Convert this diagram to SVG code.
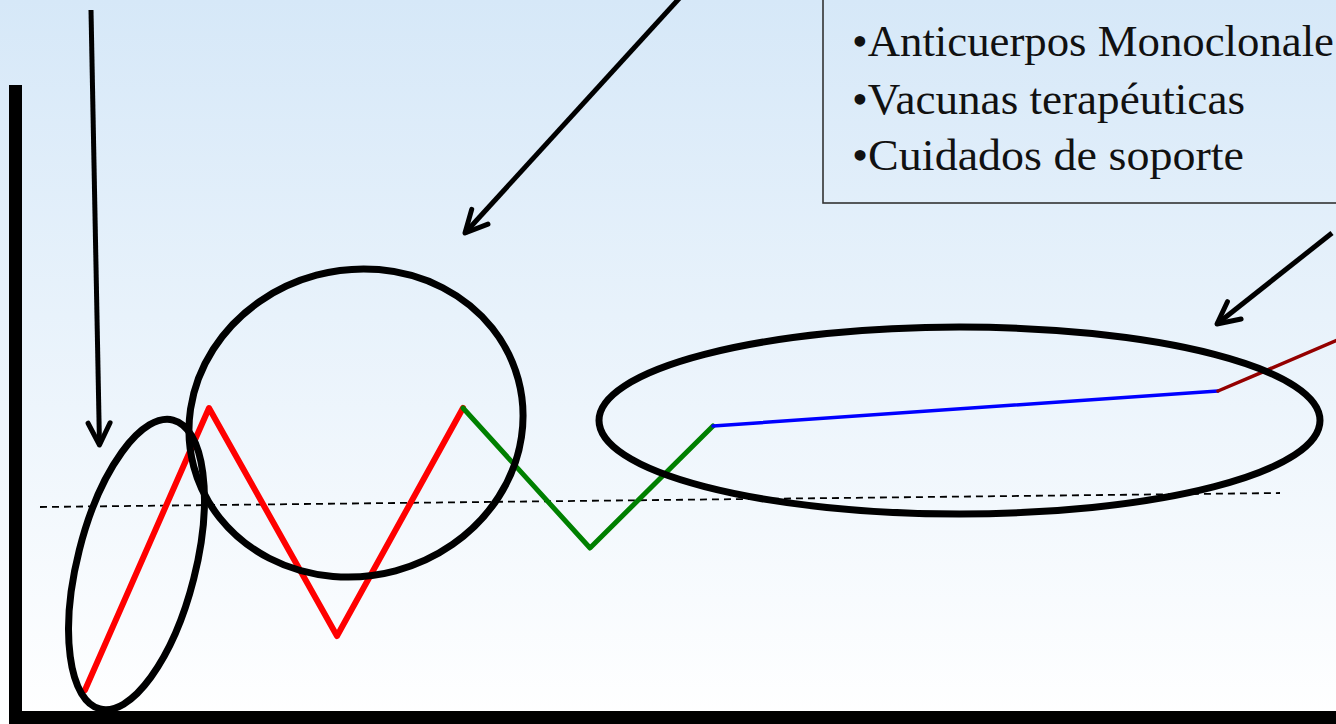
<svg xmlns="http://www.w3.org/2000/svg" width="1336" height="724" viewBox="0 0 1336 724">
  <defs>
    <linearGradient id="bg" x1="0" y1="0" x2="0" y2="1">
      <stop offset="0" stop-color="#d6e8f8"/>
      <stop offset="1" stop-color="#ffffff"/>
    </linearGradient>
    <marker id="chev" markerUnits="userSpaceOnUse" viewBox="-30 -20 40 40" markerWidth="40" markerHeight="40" refX="0" refY="0" orient="auto" overflow="visible">
      <path d="M-22,-11 L0,0 L-22,11" fill="none" stroke="#000" stroke-width="5" stroke-linecap="round" stroke-linejoin="round"/>
    </marker>
    <style>
      .arrow { stroke: #000; stroke-width: 5; fill: none; marker-end: url(#chev); }
      .ring { fill: none; stroke: #000; stroke-width: 7; }
      .axis { fill: #000; }
      .trace { fill: none; stroke-linejoin: round; stroke-linecap: round; }
      .lbl { font-family: "Liberation Serif", "Times New Roman", serif; font-size: 44px; fill: #111; }
    </style>
  </defs>

  <rect x="0" y="0" width="1336" height="724" fill="url(#bg)"/>

  <g id="axes">
    <rect class="axis" x="9" y="85" width="13" height="639"/>
    <rect class="axis" x="9" y="711" width="1327" height="13"/>
  </g>

  <g id="threshold">
    <line x1="40" y1="507" x2="1280" y2="493" stroke="#000" stroke-width="1.8" stroke-dasharray="7 5"/>
  </g>

  <g id="curve">
    <polyline class="trace" points="85,690 209,408 337,636 463,408" stroke="#ff0000" stroke-width="6"/>
    <polyline class="trace" points="463,408 590,548 713,426" stroke="#008000" stroke-width="5"/>
    <polyline class="trace" points="713,426 1218,391" stroke="#0000ff" stroke-width="3.5"/>
    <polyline class="trace" points="1218,391 1340,339" stroke="#940000" stroke-width="3.5"/>
  </g>

  <g id="ellipse-left">
    <ellipse class="ring" cx="0" cy="0" rx="59" ry="149" transform="translate(136.5,564.5) rotate(14.2)"/>
  </g>
  <g id="ellipse-middle">
    <ellipse class="ring" cx="0" cy="0" rx="168" ry="153" transform="translate(356,423) rotate(-15)"/>
  </g>
  <g id="ellipse-right">
    <ellipse class="ring" cx="959.5" cy="420.5" rx="360.5" ry="93.5"/>
  </g>

  <g id="textbox">
    <rect x="823" y="-10" width="600" height="213" fill="none" stroke="#333" stroke-width="1.6"/>
    <text class="lbl" x="852" y="56" textLength="482" lengthAdjust="spacingAndGlyphs">•Anticuerpos Monoclonale</text>
    <text class="lbl" x="852" y="114" textLength="393" lengthAdjust="spacingAndGlyphs">•Vacunas terapéuticas</text>
    <text class="lbl" x="852" y="170" textLength="392" lengthAdjust="spacingAndGlyphs">•Cuidados de soporte</text>
  </g>

  <g id="connectors">
    <line class="arrow" x1="91" y1="10" x2="99.5" y2="445"/>
    <line class="arrow" x1="686" y1="-9" x2="465" y2="233"/>
    <line class="arrow" x1="1332" y1="233" x2="1217" y2="324"/>
  </g>
</svg>
